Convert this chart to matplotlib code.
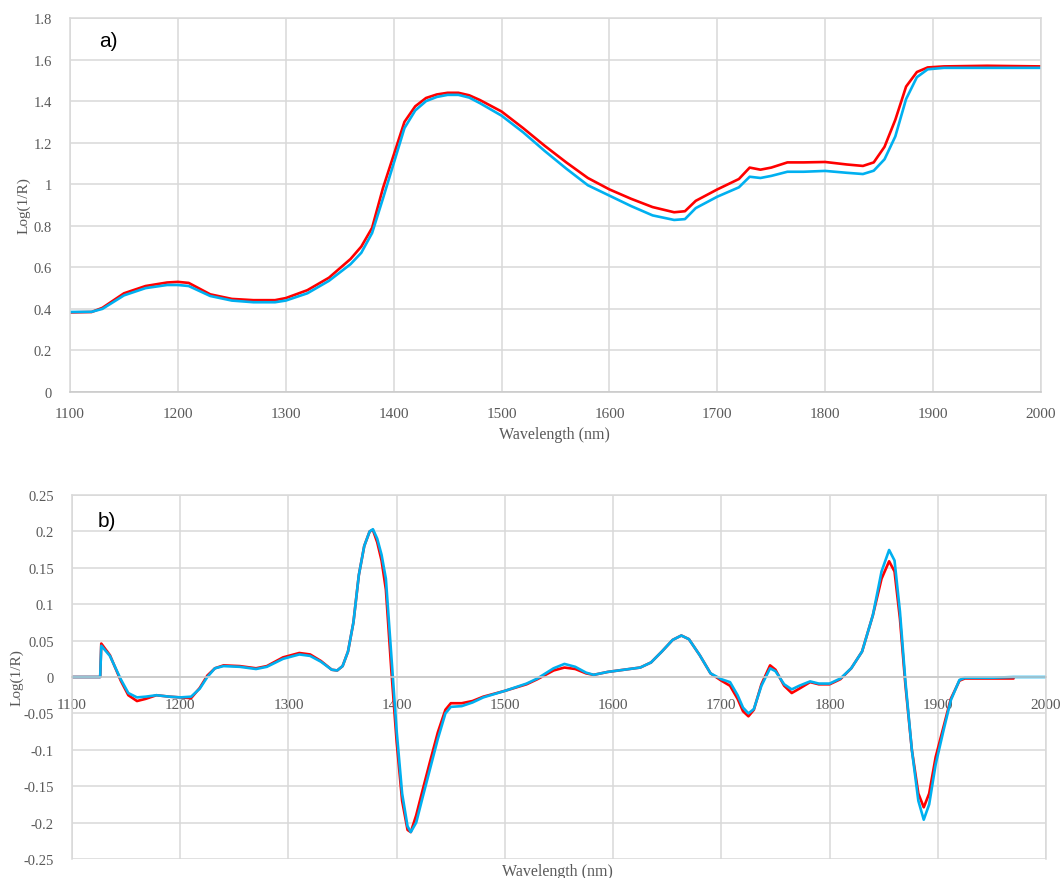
import numpy as np
import matplotlib.pyplot as plt
from matplotlib.ticker import FuncFormatter

# raw spectra, Log(1/R)
wl_raw = [1100, 1120, 1130, 1150, 1170, 1190, 1200, 1210, 1230, 1250,
          1270, 1290, 1300, 1320, 1340, 1360, 1370, 1380, 1390, 1400,
          1410, 1420, 1430, 1440, 1450, 1460, 1470, 1480, 1500, 1520,
          1540, 1560, 1580, 1600, 1620, 1640, 1660, 1670, 1680, 1700,
          1720, 1730, 1740, 1750, 1765, 1780, 1800, 1820, 1835, 1845,
          1855, 1865, 1875, 1885, 1895, 1910, 1950, 2000]
raw_red = [0.383, 0.385, 0.405, 0.475, 0.51, 0.527, 0.53, 0.525, 0.47, 0.448,
           0.442, 0.442, 0.452, 0.49, 0.55, 0.64, 0.70, 0.79, 0.98, 1.14,
           1.30, 1.375, 1.415, 1.432, 1.44, 1.44, 1.428, 1.405, 1.35, 1.27,
           1.185, 1.105, 1.03, 0.975, 0.93, 0.89, 0.865, 0.87, 0.92, 0.975,
           1.025, 1.08, 1.07, 1.08, 1.105, 1.105, 1.107, 1.095, 1.088, 1.105,
           1.18, 1.31, 1.47, 1.54, 1.562, 1.567, 1.57, 1.567]
raw_cyan = [0.385, 0.386, 0.40, 0.465, 0.50, 0.515, 0.515, 0.51, 0.462, 0.44,
            0.432, 0.432, 0.44, 0.475, 0.535, 0.615, 0.67, 0.765, 0.93, 1.10,
            1.27, 1.355, 1.40, 1.42, 1.43, 1.43, 1.417, 1.39, 1.33, 1.25,
            1.16, 1.075, 0.995, 0.945, 0.895, 0.85, 0.828, 0.832, 0.885, 0.94,
            0.985, 1.036, 1.03, 1.04, 1.06, 1.06, 1.064, 1.055, 1.049, 1.065,
            1.12, 1.23, 1.41, 1.515, 1.553, 1.56, 1.56, 1.56]

# second derivative spectra
wl_d2 = [1100, 1126, 1127, 1135, 1145, 1152, 1160, 1168, 1178, 1190,
         1200, 1210, 1218, 1225, 1232, 1240, 1255, 1270, 1280, 1295,
         1310, 1320, 1330, 1340, 1345, 1350, 1355, 1360, 1365, 1370,
         1375, 1378, 1382, 1386, 1390, 1395, 1400, 1405, 1410, 1413,
         1418, 1424, 1431, 1438, 1445, 1450, 1460, 1470, 1480, 1500,
         1520, 1530, 1545, 1555, 1565, 1575, 1582, 1595, 1610, 1625,
         1635, 1645, 1655, 1663, 1670, 1680, 1690, 1700, 1708, 1715,
         1720, 1725, 1730, 1737, 1745, 1750, 1758, 1765, 1772, 1782,
         1790, 1800, 1810, 1820, 1830, 1840, 1848, 1855, 1860, 1865,
         1870, 1876, 1882, 1887, 1892, 1898, 1905, 1912, 1920, 1925,
         1950, 1970, 2000]
d2_red = [0, 0, 0.046, 0.03, -0.005, -0.025, -0.033, -0.03, -0.025, -0.027,
          -0.028, -0.029, -0.015, 0.002, 0.012, 0.016, 0.015, 0.012, 0.015, 0.027,
          0.033, 0.031, 0.022, 0.01, 0.009, 0.015, 0.035, 0.075, 0.14, 0.18,
          0.2, 0.202, 0.185, 0.16, 0.12, 0.01, -0.09, -0.17, -0.21, -0.213,
          -0.19, -0.155, -0.115, -0.076, -0.045, -0.036, -0.036, -0.033, -0.027, -0.019,
          -0.01, -0.003, 0.009, 0.013, 0.011, 0.005, 0.003, 0.007, 0.01, 0.013,
          0.02, 0.035, 0.051, 0.057, 0.052, 0.03, 0.005, -0.005, -0.012, -0.03,
          -0.047, -0.054, -0.045, -0.01, 0.016, 0.01, -0.012, -0.022, -0.016, -0.007,
          -0.01, -0.01, -0.003, 0.012, 0.035, 0.085, 0.135, 0.159, 0.145, 0.08,
          -0.01, -0.1, -0.16, -0.179, -0.16, -0.11, -0.07, -0.03, -0.005, -0.002,
          -0.002, -0.002, np.nan]
d2_cyan = [0, 0, 0.043, 0.029, -0.003, -0.022, -0.028, -0.027, -0.025, -0.027,
           -0.028, -0.027, -0.016, 0.0, 0.012, 0.015, 0.014, 0.011, 0.014, 0.025,
           0.031, 0.029, 0.021, 0.01, 0.009, 0.015, 0.035, 0.075, 0.14, 0.18,
           0.2, 0.203, 0.19, 0.168, 0.135, 0.03, -0.075, -0.16, -0.205, -0.213,
           -0.2, -0.165, -0.125, -0.085, -0.05, -0.041, -0.04, -0.035, -0.028, -0.019,
           -0.009, -0.002, 0.012, 0.018, 0.014, 0.006, 0.003, 0.007, 0.01, 0.013,
           0.02, 0.035, 0.051, 0.057, 0.052, 0.03, 0.005, -0.003, -0.007, -0.025,
           -0.042, -0.05, -0.044, -0.012, 0.012, 0.008, -0.01, -0.017, -0.012, -0.006,
           -0.009, -0.009, -0.002, 0.012, 0.035, 0.085, 0.145, 0.1745, 0.16, 0.09,
           -0.005, -0.1, -0.17, -0.196, -0.175, -0.12, -0.075, -0.032, -0.004, -0.001,
           -0.001, 0, 0]

RED = '#ff0000'
CYAN = '#00b0f0'
GRID = '#d9d9d9'
TXT = '#595959'

plt.rcParams['font.family'] = ['Liberation Serif', 'DejaVu Serif']

fig = plt.figure(figsize=(10.61, 8.79), dpi=100)
ax1 = fig.add_axes([0.066, 0.5529, 0.9151, 0.4255])
ax2 = fig.add_axes([0.0679, 0.0216, 0.918, 0.4141])


def excel_fmt(v, pos):
    return f'{round(v, 2) + 0.0:g}'


def style(ax):
    ax.grid(True, color=GRID, linewidth=1.1)
    ax.set_axisbelow(True)
    for s in ax.spines.values():
        s.set_color(GRID)
        s.set_linewidth(1.1)
    ax.spines['bottom'].set_color('#c8c8c8')
    ax.tick_params(length=0, labelsize=11, labelcolor=TXT)
    ax.tick_params(axis='y', labelsize=10.5, pad=13)
    ax.yaxis.set_major_formatter(FuncFormatter(excel_fmt))
    ax.set_xlim(1100, 2000)
    ax.set_xticks(np.arange(1100, 2001, 100))


line_kw = dict(lw=1.9, solid_joinstyle='round', solid_capstyle='round')

ax1.plot(wl_raw, raw_red, color=RED, **line_kw)
ax1.plot(wl_raw, raw_cyan, color=CYAN, **line_kw)
style(ax1)
ax1.set_ylim(0, 1.8)
ax1.set_yticks(np.arange(0, 1.81, 0.2))
ax1.tick_params(axis='x', pad=11)
ax1.text(0.03, 0.94, 'a)', transform=ax1.transAxes, fontsize=15,
         family='Liberation Sans', va='center')
ax1.set_ylabel('Log(1/R)', fontsize=11, color=TXT)
ax1.yaxis.set_label_coords(-0.041, 0.5)

ax2.plot(wl_d2[:-1], d2_red[:-1], color=RED, **line_kw)
ax2.plot(wl_d2, d2_cyan, color=CYAN, **line_kw)
style(ax2)
ax2.set_ylim(-0.25, 0.25)
ax2.set_yticks(np.arange(-0.25, 0.251, 0.05))
ax2.spines['bottom'].set_position(('data', 0))
ax2.tick_params(axis='x', pad=15)
ax2.text(0.026, 0.93, 'b)', transform=ax2.transAxes, fontsize=15,
         family='Liberation Sans', va='center')
ax2.set_ylabel('Log(1/R)', fontsize=11, color=TXT)
ax2.yaxis.set_label_coords(-0.05, 0.5)

fig.text(0.523, 1 - 435 / 879, 'Wavelength (nm)', fontsize=11.5, color=TXT,
         ha='center', va='center')
fig.text(0.525, 1 - 872 / 879, 'Wavelength (nm)', fontsize=11.5, color=TXT,
         ha='center', va='center')

fig.savefig('out.png', dpi=100)
